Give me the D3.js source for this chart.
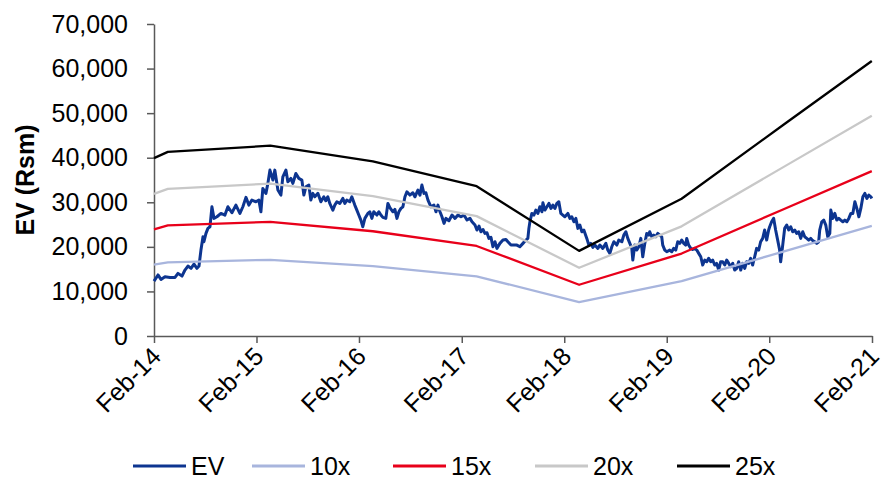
<!DOCTYPE html>
<html><head><meta charset="utf-8">
<script src="https://cdn.jsdelivr.net/npm/d3@7"></script>
<style>
body{margin:0;background:#fff}
svg{display:block}
text{font-family:"Liberation Sans",Arial,sans-serif}
</style>
</head><body>
<svg id="c" width="887" height="486"></svg>
<script>
// ---- data ----
const seriesNames = ["EV","10x","15x","20x","25x"];
const seriesColors = ["#0d3590","#a8b5dd","#e8001a","#c8c8c8","#000000"];
const yTicks = [0,10000,20000,30000,40000,50000,60000,70000];
const xTickYears = [2014,2015,2016,2017,2018,2019,2020,2021];
const yTitle = "EV (Rsm)";

// EV observations: [decimal year, EV Rsm]
const evPoints = [
[2014.085,12300],[2014.124,13700],[2014.153,12700],[2014.192,13300],[2014.241,13150],[2014.290,13150],
[2014.319,14050],[2014.358,13450],[2014.387,14800],[2014.416,15700],[2014.446,15180],[2014.475,16140],
[2014.504,15180],[2014.524,15700],[2014.543,19280],[2014.563,22260],[2014.572,21150],[2014.592,23020],
[2014.611,24150],[2014.631,24500],[2014.650,28990],[2014.670,26390],[2014.699,26750],[2014.738,27500],
[2014.777,27130],[2014.806,28990],[2014.845,27650],[2014.884,29370],[2014.923,27500],[2014.952,29000],
[2014.982,31100],[2015.011,29370],[2015.040,30490],[2015.079,30120],[2015.108,30490],[2015.128,27870],
[2015.147,33110],[2015.177,32000],[2015.196,34240],[2015.216,37220],[2015.245,34980],[2015.264,37220],
[2015.294,32740],[2015.323,31610],[2015.342,35720],[2015.372,37220],[2015.391,34600],[2015.420,35360],
[2015.440,34240],[2015.469,36470],[2015.498,35360],[2015.528,34980],[2015.547,31610],[2015.567,33480],
[2015.596,33860],[2015.615,30490],[2015.635,32000],[2015.654,31230],[2015.684,32000],[2015.713,30120],
[2015.742,31230],[2015.761,30340],[2015.781,31230],[2015.800,29750],[2015.830,28250],[2015.849,29370],
[2015.869,30120],[2015.898,29750],[2015.927,30870],[2015.947,29750],[2015.966,30490],[2015.995,30120],
[2016.015,31230],[2016.044,29370],[2016.064,28250],[2016.083,27130],[2016.103,26010],[2016.122,24510],
[2016.142,26390],[2016.171,27500],[2016.190,27870],[2016.210,26390],[2016.229,27870],[2016.259,27130],
[2016.278,27870],[2016.298,27130],[2016.317,26610],[2016.346,26390],[2016.366,29750],[2016.385,28800],
[2016.415,27870],[2016.434,28400],[2016.454,26390],[2016.473,27870],[2016.493,28630],[2016.512,28990],
[2016.532,31230],[2016.551,32350],[2016.580,31610],[2016.609,32130],[2016.629,31230],[2016.658,32740],
[2016.678,31610],[2016.697,33860],[2016.717,32000],[2016.736,32130],[2016.756,30490],[2016.785,28990],
[2016.814,29370],[2016.834,27870],[2016.853,29370],[2016.873,27870],[2016.892,26750],[2016.912,25260],
[2016.931,26390],[2016.960,25850],[2016.990,27130],[2017.019,26390],[2017.048,27130],[2017.077,26750],
[2017.107,27130],[2017.136,26010],[2017.165,26390],[2017.185,25630],[2017.214,24890],[2017.233,23770],
[2017.253,24660],[2017.272,23390],[2017.292,23900],[2017.311,23020],[2017.331,23150],[2017.350,21900],
[2017.370,22130],[2017.389,20020],[2017.409,21150],[2017.428,19660],[2017.457,20780],[2017.487,21520],
[2017.516,21670],[2017.535,21150],[2017.565,20400],[2017.584,20400],[2017.623,20400],[2017.652,20020],
[2017.682,20780],[2017.711,21520],[2017.730,21900],[2017.740,24150],[2017.750,25630],[2017.769,27500],
[2017.789,27130],[2017.808,28250],[2017.828,27500],[2017.847,28990],[2017.867,27870],[2017.877,29890],
[2017.896,28250],[2017.916,28990],[2017.935,29750],[2017.955,28630],[2017.974,29370],[2017.994,28630],
[2018.013,29750],[2018.032,30120],[2018.052,27500],[2018.071,27130],[2018.091,26750],[2018.120,27500],
[2018.140,26390],[2018.159,26750],[2018.179,25630],[2018.198,26390],[2018.218,24150],[2018.237,24890],
[2018.257,23390],[2018.276,23770],[2018.305,21900],[2018.325,20400],[2018.344,20780],[2018.364,19880],
[2018.383,20400],[2018.413,19660],[2018.432,20400],[2018.461,19660],[2018.491,20780],[2018.510,19280],
[2018.530,18540],[2018.549,20020],[2018.569,21150],[2018.598,20400],[2018.617,21520],[2018.647,21150],
[2018.666,22640],[2018.686,23390],[2018.705,21900],[2018.725,20780],[2018.744,19660],[2018.754,17040],
[2018.773,20400],[2018.793,19280],[2018.812,20020],[2018.832,21900],[2018.851,17780],[2018.871,20780],
[2018.890,23020],[2018.910,22640],[2018.919,23390],[2018.939,22260],[2018.958,22640],[2018.978,22260],
[2018.997,23020],[2019.017,22640],[2019.036,22260],[2019.046,20400],[2019.066,19280],[2019.085,18910],
[2019.114,19280],[2019.134,18910],[2019.153,19660],[2019.173,19280],[2019.192,21150],[2019.212,20780],
[2019.231,21520],[2019.251,20780],[2019.270,20400],[2019.280,21900],[2019.299,20400],[2019.319,19660],
[2019.338,19430],[2019.358,19660],[2019.378,19280],[2019.397,18540],[2019.417,17780],[2019.436,15920],
[2019.456,17040],[2019.475,16660],[2019.494,17420],[2019.514,16660],[2019.533,17040],[2019.553,15920],
[2019.572,16290],[2019.592,14800],[2019.611,16660],[2019.631,16660],[2019.651,15920],[2019.670,17040],
[2019.690,16290],[2019.709,15540],[2019.729,16290],[2019.748,14800],[2019.768,15170],[2019.787,16660],
[2019.807,14800],[2019.826,16290],[2019.846,15170],[2019.865,16660],[2019.885,16290],[2019.904,17420],
[2019.923,15920],[2019.943,17780],[2019.962,19660],[2019.982,19280],[2020.001,21150],[2020.021,21900],
[2020.040,23770],[2020.060,21520],[2020.079,23770],[2020.089,24510],[2020.108,25630],[2020.128,26390],
[2020.147,23770],[2020.167,21520],[2020.186,19280],[2020.196,16660],[2020.216,20400],[2020.235,24150],
[2020.255,24890],[2020.274,23770],[2020.294,24510],[2020.313,23390],[2020.333,23770],[2020.352,23020],
[2020.372,23390],[2020.391,21900],[2020.411,23390],[2020.430,22260],[2020.450,21900],[2020.469,21520],
[2020.489,21900],[2020.508,21400],[2020.527,21150],[2020.547,20780],[2020.566,21150],[2020.576,23770],
[2020.596,25630],[2020.615,26010],[2020.635,24890],[2020.654,22260],[2020.674,23020],[2020.684,28250],
[2020.703,26390],[2020.723,27500],[2020.742,26010],[2020.762,26390],[2020.781,26010],[2020.801,25630],
[2020.820,26010],[2020.840,25630],[2020.859,26390],[2020.879,27500],[2020.898,27500],[2020.918,30120],
[2020.937,28630],[2020.957,26750],[2020.976,28630],[2020.996,31230],[2021.015,32000],[2021.035,30870],
[2021.054,31610],[2021.074,31230],[2021.083,30870]
];

// multiple bands: dates (decimal year) and values
const bandYears = [2014.085,2014.22,2015.22,2016.22,2017.23,2018.23,2019.23,2020.23,2021.083];
const band10x = [16000,16500,17100,15700,13400,7600,12300,19000,24700];
const band15x = [23900,24800,25600,23500,20200,11500,18500,28500,37000];
const band20x = [31900,33000,34200,31400,26900,15300,24600,38000,49400];
const band25x = [39900,41300,42700,39200,33600,19100,30800,47500,61700];

// ---- drawing ----
function decToDate(d){const yr=Math.floor(d);const s=Date.UTC(yr,0,1),e=Date.UTC(yr+1,0,1);return new Date(s+(d-yr)*(e-s));}

const svg = d3.select("#c");
const L=154,R=872,T=24,B=336;
const x = d3.scaleUtc().domain([new Date(Date.UTC(2014,1,1)),new Date(Date.UTC(2021,1,1))]).range([L,R]);
const y = d3.scaleLinear().domain([0,70000]).range([B,T]);
const axisColor="#595959";
const fs=25;

const line = d3.line().x(d=>x(decToDate(d[0]))).y(d=>y(d[1]));

const series = [
  {name:seriesNames[0], color:seriesColors[0], w:3, pts:evPoints},
  {name:seriesNames[1], color:seriesColors[1], w:2.3, pts:bandYears.map((t,i)=>[t,band10x[i]])},
  {name:seriesNames[2], color:seriesColors[2], w:2.3, pts:bandYears.map((t,i)=>[t,band15x[i]])},
  {name:seriesNames[3], color:seriesColors[3], w:2.3, pts:bandYears.map((t,i)=>[t,band20x[i]])},
  {name:seriesNames[4], color:seriesColors[4], w:2.3, pts:bandYears.map((t,i)=>[t,band25x[i]])}
];

// axes
const yAxis = svg.append("g").attr("transform",`translate(${L},0)`)
  .call(d3.axisLeft(y).tickValues(yTicks).tickSize(7).tickSizeOuter(0).tickPadding(19).tickFormat(d3.format(",")));
const xAxis = svg.append("g").attr("transform",`translate(0,${B})`)
  .call(d3.axisBottom(x).tickValues(xTickYears.map(yr=>new Date(Date.UTC(yr,1,1)))).tickSize(7).tickSizeOuter(0)
    .tickFormat(d3.utcFormat("%b-%y")));
[yAxis,xAxis].forEach(a=>{
  a.select(".domain").attr("stroke",axisColor).attr("stroke-width",1.5);
  a.selectAll(".tick line").attr("stroke",axisColor).attr("stroke-width",1.5);
  a.selectAll("text").attr("fill","#000").style("font-size",fs+"px").style("font-family",'"Liberation Sans",Arial,sans-serif');
});
xAxis.selectAll(".tick text").attr("x",0).attr("y",0).attr("dy",0)
  .attr("text-anchor","end").attr("transform","translate(8,22) rotate(-45)");

// series lines
series.forEach(s=>{
  svg.append("path").datum(s.pts).attr("d",line).attr("fill","none")
    .attr("stroke",s.color).attr("stroke-width",s.w).attr("stroke-linejoin","round");
});

// y title
svg.append("text").attr("transform","translate(34,180) rotate(-90)").attr("text-anchor","middle")
  .style("font-size",fs+"px").style("font-weight","bold").text(yTitle);

// legend
const legStart=[133,252,393,535,677];
const legY=466;
series.forEach((s,i)=>{
  const g=svg.append("g").attr("transform",`translate(${legStart[i]},${legY})`);
  g.append("line").attr("x1",0).attr("x2",53).attr("y1",0).attr("y2",0).attr("stroke",s.color).attr("stroke-width",3);
  g.append("text").attr("x",58).attr("y",0).attr("dy","0.36em").style("font-size",fs+"px").text(s.name);
});
</script>
</body></html>
